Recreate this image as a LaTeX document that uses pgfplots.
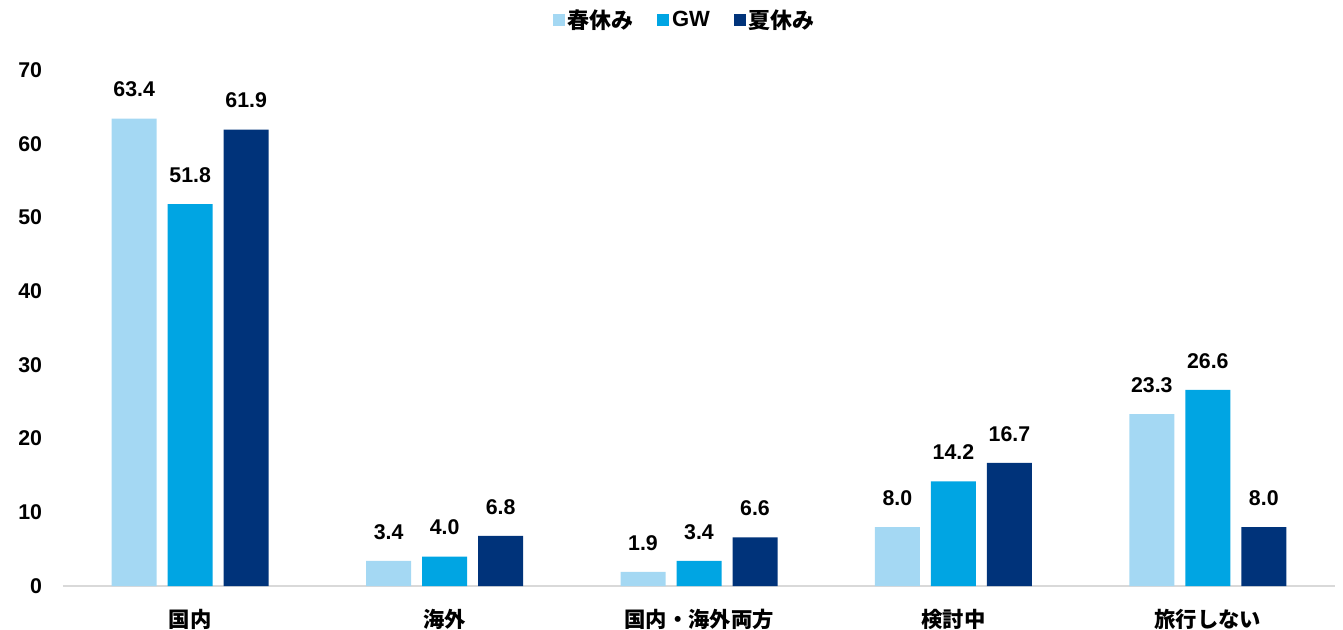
\documentclass[border=0pt]{standalone}
\usepackage{fontspec}
\setmainfont{Liberation Sans}
\newfontfamily\jp{Noto Sans CJK JP}
\usepackage{pgfplots}
\pgfplotsset{compat=1.18}
\definecolor{c1}{HTML}{A4D8F3}
\definecolor{c2}{HTML}{00A5E3}
\definecolor{c3}{HTML}{00337A}
\definecolor{axgray}{HTML}{D9D9D9}
\begin{document}
\begin{tikzpicture}
\useasboundingbox (-47.25pt,-32.25pt) rectangle (960pt,439.5pt);
\begin{axis}[
  at={(0,0)}, anchor=south west,
  scale only axis, width=954pt, height=387pt,
  xmin=-0.5, xmax=4.5, ymin=0, ymax=70,
  ybar=8.25pt, bar width=33.75pt,
  axis lines=left,
  x axis line style={draw=axgray, line width=1.2pt, -},
  y axis line style={draw=none},
  tick style={draw=none},
  xtick={0,1,2,3,4},
  xticklabels={国内,海外,国内・海外両方,検討中,旅行しない},
  xticklabel style={font=\jp\bfseries\fontsize{16}{16}\selectfont, anchor=north, yshift=-12pt},
  ytick={0,10,...,70},
  /pgf/number format/assume math mode=true,
  yticklabel style={font=\bfseries\fontsize{16}{16}\selectfont, anchor=east, xshift=-10pt},
  nodes near coords={\pgfmathprintnumber[fixed,fixed zerofill,precision=1]{\pgfplotspointmeta}},
  nodes near coords style={font=\bfseries\fontsize{16}{16}\selectfont, anchor=south, inner sep=0pt, yshift=16pt},
  legend style={at={(0.489,1.097)}, anchor=center, draw=none, font=\jp\bfseries\fontsize{16.5}{17}\selectfont, legend columns=3, /tikz/every even column/.append style={column sep=16pt}},
  legend image code/.code={\fill[#1] (-3pt,-4.5pt) rectangle (6pt,4.5pt);},
]
\addplot[fill=c1, draw=none] coordinates {(0,63.4) (1,3.4) (2,1.9) (3,8.0) (4,23.3)};
\addplot[fill=c2, draw=none] coordinates {(0,51.8) (1,4.0) (2,3.4) (3,14.2) (4,26.6)};
\addplot[fill=c3, draw=none] coordinates {(0,61.9) (1,6.8) (2,6.6) (3,16.7) (4,8.0)};
\legend{春休み,{\fontspec{Liberation Sans}\bfseries GW},夏休み}
\end{axis}
\end{tikzpicture}
\end{document}
